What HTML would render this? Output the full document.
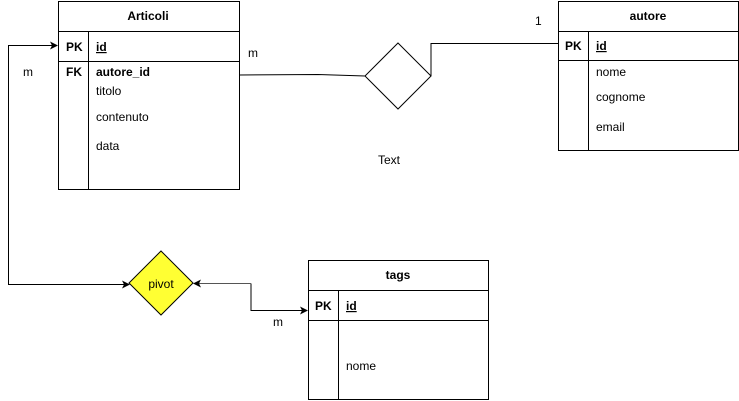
<!DOCTYPE html>
<html><head><style>
body{margin:0;width:739px;height:401px;background:#fff;font-family:"Liberation Sans",sans-serif;font-size:12px;color:#000;position:relative;overflow:hidden}
.t{position:absolute;white-space:nowrap}
</style></head><body>
<svg width="739" height="401" style="position:absolute;left:0;top:0" font-family="Liberation Sans, sans-serif" font-size="12">
<defs><marker id="a" markerWidth="8" markerHeight="8" refX="7" refY="4" orient="auto" markerUnits="userSpaceOnUse"><path d="M0,0 L8,4 L0,8 L2,4z" fill="#000"/></marker></defs>
<g fill="none" stroke="#000" stroke-width="1">
<!-- Articoli -->
<rect x="58.5" y="1.5" width="181" height="188"/>
<line x1="58" y1="31.5" x2="239" y2="31.5"/>
<line x1="58" y1="61.5" x2="239" y2="61.5"/>
<line x1="88.5" y1="31" x2="88.5" y2="189"/>
<!-- autore -->
<rect x="558.5" y="1.5" width="180" height="149"/>
<line x1="558" y1="31.5" x2="738" y2="31.5"/>
<line x1="558" y1="60.5" x2="738" y2="60.5"/>
<line x1="588.5" y1="31" x2="588.5" y2="150"/>
<!-- tags -->
<rect x="308.5" y="260.5" width="180" height="139"/>
<line x1="308" y1="290.5" x2="488" y2="290.5"/>
<line x1="308" y1="320.5" x2="488" y2="320.5"/>
<line x1="338.5" y1="290" x2="338.5" y2="400"/>
<!-- diamond -->
<polygon points="398,43 431,76 398,109 365,76"/>
<polyline points="239,75 318,74.5 365,76"/>
<polyline points="431,76 431,43.5 558,43.5"/>
<polyline points="129,284.5 8.5,284.5 8.5,45.5 57,45.5" marker-end="url(#a)"/>
<polyline points="251,283.5 251,310.5 307,310.5" marker-end="url(#a)"/>
<line x1="251" y1="283.5" x2="194" y2="283.5" stroke="#555" marker-end="url(#a)"/>
<line x1="125" y1="284.5" x2="129" y2="284.5" marker-end="url(#a)"/>
</g>
<polygon points="161,251 193,283 161,315 129,283" fill="#ffff33" stroke="#000"/>
<g fill="#000">
<text x="148" y="20" text-anchor="middle" font-weight="bold">Articoli</text>
<text x="66" y="51" font-weight="bold">PK</text>
<text x="96" y="51" font-weight="bold" text-decoration="underline">id</text>
<text x="66" y="76" font-weight="bold">FK</text>
<text x="96" y="76" font-weight="bold">autore_id</text>
<text x="96" y="95">titolo</text>
<text x="96" y="121">contenuto</text>
<text x="96" y="150">data</text>
<text x="648" y="20" text-anchor="middle" font-weight="bold">autore</text>
<text x="565" y="50" font-weight="bold">PK</text>
<text x="596" y="50" font-weight="bold" text-decoration="underline">id</text>
<text x="596" y="76">nome</text>
<text x="596" y="101">cognome</text>
<text x="596" y="131">email</text>
<text x="398" y="279" text-anchor="middle" font-weight="bold">tags</text>
<text x="315" y="310" font-weight="bold">PK</text>
<text x="346" y="310" font-weight="bold" text-decoration="underline">id</text>
<text x="346" y="370">nome</text>
<text x="161" y="288" text-anchor="middle">pivot</text>
<text x="248" y="57">m</text>
<text x="535" y="25">1</text>
<text x="23" y="76">m</text>
<text x="273" y="326">m</text>
<text x="378" y="164">Text</text>
</g>
</svg>
</body></html>
